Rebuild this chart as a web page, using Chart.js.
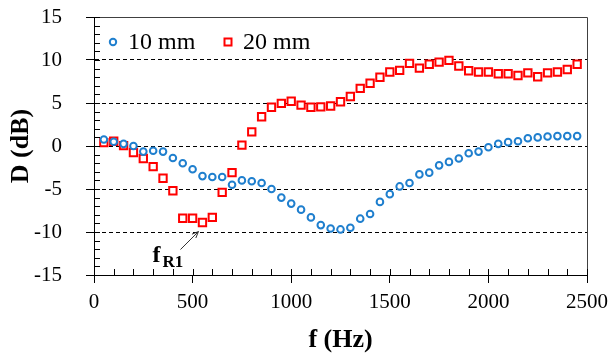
<!DOCTYPE html>
<html>
<head>
<meta charset="utf-8">
<script src="https://cdn.jsdelivr.net/npm/chart.js@4/dist/chart.umd.min.js"></script>
<style>
  html, body { margin: 0; padding: 0; background: #fff; }
  #wrap { width: 613px; height: 356px; }
</style>
</head>
<body>
<div id="wrap"><canvas id="grafica" width="613" height="356"></canvas></div>
<script>
// frecuencias (Hz)
const freqs = [50,100,150,200,250,300,350,400,450,500,550,600,650,700,750,800,850,900,950,1000,
  1050,1100,1150,1200,1250,1300,1350,1400,1450,1500,1550,1600,1650,1700,1750,1800,1850,1900,1950,2000,
  2050,2100,2150,2200,2250,2300,2350,2400,2450];

// D (dB) para 10 mm
const d10 = [0.75,0.5,0.25,0.0,-0.65,-0.55,-0.65,-1.4,-2.0,-2.7,-3.5,-3.6,-3.6,-4.5,-4.0,-4.1,-4.3,-5.0,-6.0,-6.7,
  -7.4,-8.3,-9.2,-9.6,-9.7,-9.5,-8.45,-7.9,-6.5,-5.6,-4.7,-4.3,-3.3,-3.1,-2.25,-1.85,-1.45,-0.85,-0.65,-0.15,
  0.25,0.45,0.55,0.9,1.0,1.1,1.15,1.15,1.15];

// D (dB) para 20 mm
const d20 = [0.4,0.55,0.05,-0.75,-1.45,-2.4,-3.75,-5.2,-8.4,-8.4,-8.9,-8.3,-5.4,-3.1,0.1,1.65,3.4,4.5,4.95,5.2,
  4.75,4.5,4.55,4.65,5.15,5.75,6.7,7.3,8.0,8.6,8.8,9.6,9.05,9.5,9.75,9.95,9.3,8.75,8.6,8.6,
  8.4,8.4,8.2,8.5,8.05,8.5,8.6,8.9,9.5];

const etiquetas = ['10 mm', '20 mm'];
const yTicks = [-15,-10,-5,0,5,10,15];
const xTicks = [0,500,1000,1500,2000,2500];

const azul = '#1f7fce';
const rojo = '#ff0000';
const fuente = 'Liberation Serif, Times New Roman, serif';

const extras = {
  id: 'extras',
  afterDraw(chart) {
    const ctx = chart.ctx;
    const a = chart.chartArea;
    const x = chart.scales.x, y = chart.scales.y;
    ctx.save();
    // marco superior y derecho
    ctx.strokeStyle = '#404040';
    ctx.lineWidth = 1;
    ctx.beginPath();
    ctx.moveTo(a.left, a.top + 0.5); ctx.lineTo(a.right + 0.5, a.top + 0.5);
    ctx.lineTo(a.right + 0.5, a.bottom);
    ctx.stroke();
    // ticks menores
    ctx.strokeStyle = '#000';
    ctx.beginPath();
    for (let v = -15; v <= 15; v++) {
      const py = Math.round(y.getPixelForValue(v)) + 0.5;
      ctx.moveTo(a.left, py); ctx.lineTo(a.left + 6, py);
    }
    for (let v = 0; v <= 2500; v += 100) {
      const px = Math.round(x.getPixelForValue(v)) + 0.5;
      ctx.moveTo(px, a.bottom); ctx.lineTo(px, a.bottom - 6);
    }
    ctx.stroke();

    // leyenda
    ctx.font = '24px ' + fuente;
    ctx.textBaseline = 'middle';
    ctx.fillStyle = '#000';
    const ly = a.top + 25;
    let lx = a.left + 19;
    chart.data.datasets.forEach((ds, i) => {
      ctx.lineWidth = 2;
      ctx.strokeStyle = ds.borderColor;
      ctx.beginPath();
      if (ds.pointStyle === 'circle') ctx.arc(lx, ly, 3.2, 0, Math.PI * 2);
      else ctx.rect(lx - 3.5, ly - 3.5, 7, 7);
      ctx.stroke();
      ctx.fillText(ds.label, lx + 15, ly + 1);
      lx += 115;
    });

    // anotacion f_R1
    const tx = x.getPixelForValue(550) - 4;
    const ty = y.getPixelForValue(-8.9) + 9;
    const sx = tx - 18, sy = ty + 18;
    ctx.strokeStyle = '#333';
    ctx.lineWidth = 1;
    ctx.beginPath();
    ctx.moveTo(sx, sy); ctx.lineTo(tx, ty);
    ctx.stroke();
    const ang = Math.atan2(ty - sy, tx - sx);
    ctx.beginPath();
    ctx.moveTo(tx, ty);
    ctx.lineTo(tx - 7 * Math.cos(ang - 0.4), ty - 7 * Math.sin(ang - 0.4));
    ctx.moveTo(tx, ty);
    ctx.lineTo(tx - 7 * Math.cos(ang + 0.4), ty - 7 * Math.sin(ang + 0.4));
    ctx.stroke();
    ctx.fillStyle = '#000';
    ctx.textBaseline = 'alphabetic';
    ctx.font = 'bold 24px ' + fuente;
    ctx.fillText('f', sx - 28, sy + 12);
    ctx.font = 'bold 17px ' + fuente;
    ctx.fillText('R1', sx - 18, sy + 17);
    ctx.restore();
  }
};

new Chart(document.getElementById('grafica'), {
  type: 'scatter',
  data: {
    datasets: [
      {
        label: etiquetas[0],
        data: freqs.map((f, i) => ({x: f, y: d10[i]})),
        pointStyle: 'circle',
        radius: 3.3,
        borderWidth: 2,
        borderColor: azul,
        backgroundColor: '#fff'
      },
      {
        label: etiquetas[1],
        data: freqs.map((f, i) => ({x: f, y: d20[i]})),
        pointStyle: 'rect',
        radius: 5.2,
        borderWidth: 2,
        borderColor: rojo,
        backgroundColor: '#fff'
      }
    ]
  },
  options: {
    responsive: false,
    animation: false,
    layout: { padding: { left: 0, top: 17, right: 26, bottom: 0 } },
    plugins: { legend: { display: false }, tooltip: { enabled: false } },
    scales: {
      x: {
        type: 'linear',
        min: 0, max: 2500,
        afterBuildTicks: s => { s.ticks = xTicks.map(v => ({value: v})); },
        afterFit: s => { s.height = 81; s.paddingLeft = 0; s.paddingRight = 0; },
        grid: { drawOnChartArea: false, tickLength: 8, tickColor: '#000', color: '#000' },
        border: { color: '#000', width: 1 },
        ticks: { color: '#000', font: { family: fuente, size: 21 }, padding: 7, maxRotation: 0, callback: v => String(v) },
        title: { display: true, text: 'f (Hz)', color: '#000', font: { family: fuente, size: 26, weight: 'bold' }, padding: { top: 0, bottom: 0 } }
      },
      y: {
        min: -15, max: 15,
        afterBuildTicks: s => { s.ticks = yTicks.map(v => ({value: v})); },
        afterFit: s => { s.width = 94; s.paddingTop = 0; s.paddingBottom = 0; },
        grid: {
          tickLength: 8,
          tickColor: '#000',
          color: c => (c.tick && Math.abs(c.tick.value) === 15) ? 'rgba(0,0,0,0)' : '#000',
          lineWidth: 1
        },
        border: { color: '#000', width: 1, dash: [4, 3] },
        ticks: { color: '#000', font: { family: fuente, size: 21 }, padding: 24, callback: v => String(v) },
        title: { display: true, text: 'D (dB)', color: '#000', font: { family: fuente, size: 26, weight: 'bold' }, padding: { top: 6, bottom: 0 } }
      }
    }
  },
  plugins: [extras]
});
</script>
</body>
</html>
